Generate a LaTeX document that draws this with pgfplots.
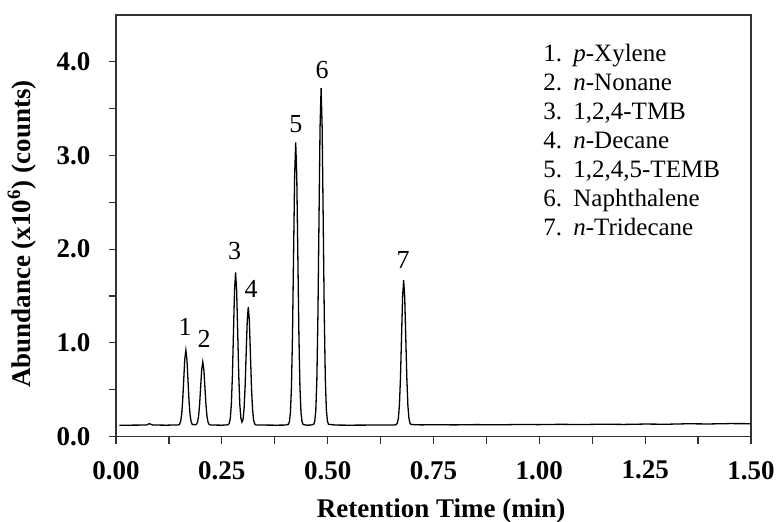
\documentclass[border=0pt]{standalone}
\usepackage{pgfplots}
\pgfplotsset{compat=1.18}
\usepackage{fontspec}
\setmainfont{Liberation Serif}
\begin{document}
\begin{tikzpicture}
\path[use as bounding box] (-58pt,-42.35pt) rectangle (330.5pt,218.25pt);
\begin{axis}[
  scale only axis,
  width=317.5pt, height=210.75pt,
  xmin=0, xmax=1.5, ymin=0, ymax=4.5,
  xtick={0,0.25,...,1.5}, ytick={0,1,2,3,4},
  minor x tick num=1, minor y tick num=1,
  tick align=outside, tickpos=left,
  major tick length=3.6pt, minor tick length=3.6pt,
  axis line style={line width=0.6pt, black!80},
  every tick/.style={line width=0.6pt, black!80},
  /pgf/number format/assume math mode=true,
  xticklabel={\pgfmathprintnumber[fixed,fixed zerofill,precision=2]{\tick}},
  yticklabel={\pgfmathprintnumber[fixed,fixed zerofill,precision=1]{\tick}},
  every tick label/.append style={font=\bfseries\fontsize{13.5}{14}\selectfont, inner sep=0pt},
  xticklabel style={anchor=north, yshift=-8.5pt},
  yticklabel style={anchor=east, xshift=-9pt},
  xlabel={Retention Time (min)},
  ylabel={Abundance (x10\textsuperscript{6}) (counts)},
  label style={font=\bfseries\fontsize{13.5}{14}\selectfont, inner sep=0pt},
  xlabel style={at={(axis description cs:0.512,-0.176)}, anchor=center},
  ylabel style={at={(axis description cs:-0.148,0.48)}, anchor=center},
  clip=false,
]
\addplot[black, line width=0.65pt] coordinates {
(0.008,0.120) (0.030,0.121) (0.060,0.122) (0.072,0.123) (0.076,0.132) (0.079,0.137) (0.082,0.131) (0.086,0.124) (0.100,0.122) (0.120,0.121) (0.140,0.123)
(0.1475,0.124) (0.150,0.131) (0.1525,0.157) (0.155,0.230) (0.1575,0.381) (0.160,0.607) (0.1625,0.827) (0.165,0.921)
(0.1675,0.827) (0.170,0.607) (0.1725,0.381) (0.175,0.230) (0.1775,0.157) (0.180,0.131) (0.1825,0.126) (0.185,0.128)
(0.1875,0.1245) (0.190,0.1295) (0.1925,0.152) (0.195,0.213) (0.1975,0.341) (0.200,0.531) (0.2025,0.717) (0.205,0.796)
(0.2075,0.717) (0.210,0.531) (0.2125,0.341) (0.215,0.213) (0.2175,0.152) (0.220,0.1295) (0.2225,0.1235)
(0.235,0.122) (0.250,0.121) (0.260,0.123)
(0.265,0.126) (0.2675,0.140) (0.270,0.194) (0.2725,0.342) (0.275,0.651) (0.2775,1.110) (0.280,1.560) (0.2825,1.751)
(0.285,1.560) (0.2875,1.110) (0.290,0.651) (0.2925,0.342) (0.295,0.196) (0.2975,0.154) (0.300,0.181) (0.3025,0.293)
(0.305,0.532) (0.3075,0.887) (0.310,1.236) (0.3125,1.384) (0.315,1.236) (0.3175,0.887) (0.320,0.532) (0.3225,0.293)
(0.325,0.177) (0.3275,0.136) (0.330,0.125) (0.3325,0.122)
(0.350,0.122) (0.380,0.121) (0.400,0.122)
(0.407,0.129) (0.4095,0.156) (0.412,0.254) (0.4145,0.530) (0.417,1.102) (0.4195,1.952) (0.422,2.785) (0.4245,3.139)
(0.427,2.785) (0.4295,1.952) (0.432,1.102) (0.4345,0.530) (0.437,0.254) (0.4395,0.156) (0.442,0.129)
(0.450,0.121) (0.460,0.122)
(0.467,0.130) (0.4695,0.162) (0.472,0.280) (0.4745,0.609) (0.477,1.290) (0.4795,2.303) (0.482,3.296) (0.4845,3.718)
(0.487,3.296) (0.4895,2.303) (0.492,1.290) (0.4945,0.609) (0.497,0.280) (0.4995,0.162) (0.502,0.130)
(0.520,0.122) (0.550,0.121) (0.600,0.122) (0.640,0.123) (0.660,0.124)
(0.662,0.128) (0.6645,0.142) (0.667,0.193) (0.6695,0.334) (0.672,0.626) (0.6745,1.061) (0.677,1.488) (0.6795,1.669)
(0.682,1.488) (0.6845,1.061) (0.687,0.626) (0.6895,0.334) (0.692,0.193) (0.6945,0.142) (0.697,0.128)
(0.720,0.124) (0.750,0.126) (0.800,0.124) (0.850,0.127) (0.900,0.125) (0.950,0.128) (1.000,0.127) (1.050,0.130)
(1.100,0.128) (1.150,0.131) (1.200,0.129) (1.250,0.133) (1.300,0.131) (1.350,0.136) (1.400,0.134) (1.450,0.138) (1.500,0.137)
};
\begin{scope}[every node/.style={font=\fontsize{13}{14}\selectfont, inner sep=0pt, anchor=center}]
\node at (axis cs:0.163,1.167) {1};
\node at (axis cs:0.208,1.039) {2};
\node at (axis cs:0.280,1.979) {3};
\node at (axis cs:0.319,1.573) {4};
\node at (axis cs:0.425,3.334) {5};
\node at (axis cs:0.487,3.911) {6};
\node at (axis cs:0.678,1.882) {7};
\end{scope}
\node[anchor=north west, inner sep=0pt, font=\fontsize{12.5}{14.5}\selectfont, align=left] at (axis cs:1.0087,4.22) {%
\begin{tabular}{@{}l@{\hspace{0.45em}}l@{}}
1. & \textit{p}-Xylene\\
2. & \textit{n}-Nonane\\
3. & 1,2,4-TMB\\
4. & \textit{n}-Decane\\
5. & 1,2,4,5-TEMB\\
6. & Naphthalene\\
7. & \textit{n}-Tridecane
\end{tabular}};
\end{axis}
\end{tikzpicture}
\end{document}
